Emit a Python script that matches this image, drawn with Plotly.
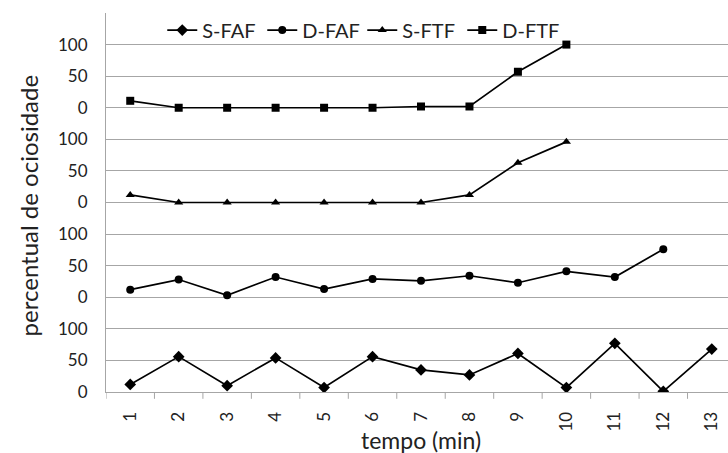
import plotly.graph_objects as go

# tempo (min)
minutes = list(range(1, 14))

# percentual de ociosidade, one list per series (None = no point)
s_faf = [12, 56, 10, 54, 7, 56, 35, 27, 61, 7, 77, 1, 68]
d_faf = [12, 28, 3, 32, 13, 29, 26, 34, 23, 41, 32, 76, None]
s_ftf = [12, 0, 0, 0, 0, 0, 0, 12, 63, 96, None, None, None]
d_ftf = [11, 0, 0, 0, 0, 0, 2, 2, 57, 100, None, None, None]

# each series sits in its own band of 150 on one shared y axis
PANEL = 150
y_ticks = [0, 50, 100]

FONT = "Lato, 'Open Sans', sans-serif"
GRID = "#a6a6a6"
TEXT = "#222"

series = [
    ("S-FAF", s_faf, "diamond", 9),
    ("D-FAF", d_faf, "circle", 8),
    ("S-FTF", s_ftf, "triangle-up", 8),
    ("D-FTF", d_ftf, "square", 8),
]

fig = go.Figure()
for band, (name, values, symbol, size) in enumerate(series):
    base = band * PANEL
    fig.add_trace(
        go.Scatter(
            x=minutes,
            y=[None if v is None else v + base for v in values],
            customdata=values,
            name=name,
            mode="lines+markers",
            line=dict(color="black", width=1.7),
            marker=dict(symbol=symbol, size=size, color="black"),
            hovertemplate=name + " %{x}: %{customdata}<extra></extra>",
        )
    )

n_bands = len(series)
tickvals = [b * PANEL + t for b in range(n_bands) for t in y_ticks]
ticktext = [str(t) for b in range(n_bands) for t in y_ticks]

fig.update_layout(
    width=728,
    height=453,
    paper_bgcolor="white",
    plot_bgcolor="white",
    font=dict(family=FONT, color=TEXT),
    margin=dict(l=106, r=0, t=13, b=61),
    showlegend=True,
    legend=dict(
        orientation="h",
        x=0.412,
        xanchor="center",
        y=0.955,
        yanchor="middle",
        bgcolor="rgba(0,0,0,0)",
        font=dict(size=20, color=TEXT),
        itemwidth=30,
        entrywidth=55,
        entrywidthmode="pixels",
    ),
    xaxis=dict(
        range=[0.5, 13.335],
        tickvals=minutes,
        tickangle=-90,
        showgrid=False,
        showline=True,
        linecolor=GRID,
        linewidth=1,
        ticks="",
        ticklabelstandoff=12,
        zeroline=False,
        tickfont=dict(size=17, color=TEXT),
    ),
    yaxis=dict(
        range=[0, n_bands * PANEL],
        tickvals=tickvals + [n_bands * PANEL],
        ticktext=ticktext + [""],
        showgrid=True,
        gridcolor=GRID,
        gridwidth=1,
        showline=True,
        linecolor=GRID,
        linewidth=1,
        zeroline=False,
        ticks="",
        ticklabelstandoff=14,
        tickfont=dict(size=17, color=TEXT),
    ),
)

# category separator tick marks below the x axis
fig.update_layout(
    shapes=[
        dict(
            type="line",
            xref="x",
            yref="paper",
            x0=i + 0.5,
            x1=i + 0.5,
            y0=0,
            y1=-0.018,
            line=dict(color=GRID, width=1),
        )
        for i in range(len(minutes))
    ]
)

fig.add_annotation(
    text="percentual de ociosidade",
    xref="paper",
    yref="paper",
    x=-0.125,
    y=0.493,
    xanchor="center",
    yanchor="middle",
    textangle=-90,
    showarrow=False,
    font=dict(size=24, color=TEXT),
)
fig.add_annotation(
    text="tempo (min)",
    xref="paper",
    yref="paper",
    x=0.506,
    y=-0.127,
    xanchor="center",
    yanchor="middle",
    showarrow=False,
    font=dict(size=23, color=TEXT),
)

fig.write_html(
    "out.html",
    config={"displayModeBar": False},
    post_script="document.body.style.margin='0';",
)
